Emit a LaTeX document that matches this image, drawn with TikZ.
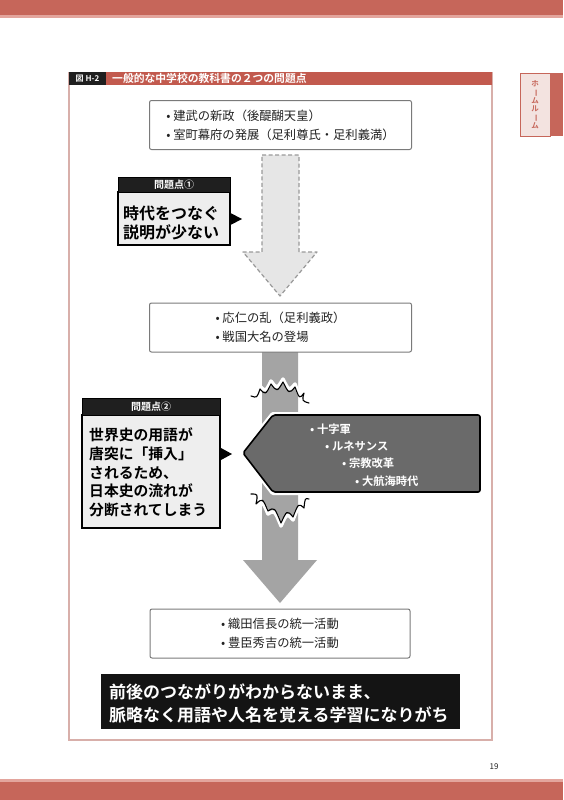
\documentclass[tikz,border=0pt]{standalone}
\usepackage{fontspec}
\newfontfamily\jp{Noto Sans CJK JP}[BoldFont={Noto Sans CJK JP Bold}]
\usetikzlibrary{calc}
\definecolor{pagered}{HTML}{C6665A}
\definecolor{pagered2}{HTML}{E3A59D}
\definecolor{framec}{HTML}{D8AFAA}
\definecolor{headred}{HTML}{C25A4E}
\definecolor{boxgrey}{HTML}{7A7A7A}
\definecolor{arrowgrey}{HTML}{A4A4A4}
\definecolor{dashfill}{HTML}{E6E6E6}
\definecolor{dashline}{HTML}{9A9A9A}
\definecolor{pentfill}{HTML}{6A6A6A}
\definecolor{probfill}{HTML}{EEEEEE}
\definecolor{tabfill}{HTML}{F3E3E0}
\definecolor{txt}{HTML}{222222}
\tikzset{
  eventbox/.style={draw=boxgrey, line width=1, rounded corners=2, fill=white,
    minimum width=262pt, minimum height=49pt, align=left, inner sep=0pt,
    text=txt, font=\jp\fontsize{12.3}{19}\selectfont},
  probhead/.style={fill=black!88, draw=black, line width=1},
  probbody/.style={fill=probfill, draw=black, line width=1.2},
  probtext/.style={anchor=west, align=left, inner sep=0pt, text=black},
  pointer/.style={fill=black},
  jagwhite/.style={white, line width=3.5, line cap=round, line join=round},
  jagblack/.style={black, line width=1.1, line cap=round, line join=round},
}
\begin{document}
\begin{tikzpicture}[x=1pt,y=-1pt]
\useasboundingbox (0,0) rectangle (563,800);
\fill[white] (0,0) rectangle (563,800);
% page bars
\fill[pagered] (0,0) rectangle (563,15);
\fill[pagered2] (0,15) rectangle (563,18);
\fill[pagered2] (0,779) rectangle (563,782);
\fill[pagered] (0,782) rectangle (563,800);
% side tab
\draw[pagered, line width=1, fill=tabfill] (520,73) rectangle (550,136);
\fill[pagered] (550,73) rectangle (563,136);
\node[align=center, inner sep=0pt, text=pagered, font=\jp\bfseries\fontsize{7.5}{8.3}\selectfont] (tab) at (535,104.5)
  {ホ\\\rotatebox[origin=c]{-90}{ー}\\ム\\ル\\\rotatebox[origin=c]{-90}{ー}\\ム};
% page number
\node[inner sep=0pt, font=\jp\fontsize{8}{9}\selectfont, text=txt] (pnum) at (494,767) {19};
% figure frame
\draw[framec, line width=1.2] (69,73) rectangle (492,740);
\fill[headred] (69,72) rectangle (492,85);
\fill[black!88] (69,72) rectangle (106,85);
\node[inner sep=0pt, text=white, font=\jp\bfseries\fontsize{8}{9}\selectfont] (fignum) at (87.5,78.5) {図 H-2};
\node[anchor=west, inner sep=0pt, text=white, font=\jp\bfseries\fontsize{10.8}{12}\selectfont] (figtitle) at (112,78.5) {一般的な中学校の教科書の２つの問題点};
% dashed arrow
\draw[dashline, line width=1.2, dash pattern=on 4pt off 2.5pt, fill=dashfill, line join=round]
  (262,155) -- (299,155) -- (299,252) -- (317,252) -- (280,296) -- (243,252) -- (262,252) -- cycle;
% solid arrow
\fill[arrowgrey] (262,352) -- (298,352) -- (298,560) -- (317,560) -- (280,603) -- (243,560) -- (262,560) -- cycle;
% top jag (spikes upward)
\draw[jagwhite] (251,393) .. controls (257,395) .. (260,386) .. controls (265.5,392) .. (271,381)
  .. controls (277,389) .. (283,379) .. controls (289,391) .. (295,384) .. controls (299.5,396) .. (304,390)
  .. controls (302,398) .. (309,400);
\draw[jagblack] (251,396) .. controls (257,398) .. (260,389) .. controls (265.5,395) .. (271,384)
  .. controls (277,392) .. (283,382) .. controls (289,394) .. (295,387) .. controls (299.5,399) .. (304,393)
  .. controls (302,401) .. (309,403);
% bottom jag (spikes downward)
\draw[jagwhite] (251,497) .. controls (258,497) .. (256,507) .. controls (262.5,501) .. (268,514)
  .. controls (274.5,510) .. (281,526) .. controls (287,513) .. (293,520) .. controls (298.5,506) .. (304,511)
  .. controls (305,501) .. (309,502);
\draw[jagblack] (251,494) .. controls (258,494) .. (256,504) .. controls (262.5,498) .. (268,511)
  .. controls (274.5,507) .. (281,523) .. controls (287,510) .. (293,517) .. controls (298.5,503) .. (304,508)
  .. controls (305,498) .. (309,499);
% pentagon (world history terms)
\draw[white, line width=6, line join=round] (243,453) -- (273,415) -- (480,415) -- (480,492) -- (273,492) -- cycle;
\draw[black, line width=1.6, fill=pentfill, line join=round, rounded corners=2]
  (243,453) -- (273,415) -- (480,415) -- (480,492) -- (273,492) -- cycle;
\node[anchor=west, align=left, inner sep=0pt, text=white, font=\jp\bfseries\fontsize{11.3}{17.3}\selectfont] (world) at (310,455)
  {• 十字軍\\\hspace*{15pt}• ルネサンス\\\hspace*{32pt}• 宗教改革\\\hspace*{45pt}• 大航海時代};
% event boxes
\node[eventbox] (b1) at (280.5,125) {• 建武の新政（後醍醐天皇）\\• 室町幕府の発展（足利尊氏・足利義満）};
\node[eventbox] (b2) at (280.5,327.5) {• 応仁の乱（足利義政）\\• 戦国大名の登場};
\node[eventbox, minimum width=260pt] (b3) at (280,633.5) {• 織田信長の統一活動\\• 豊臣秀吉の統一活動};
% problem 1
\draw[probbody] (118,192) rectangle (230,245);
\draw[probhead] (118,177) rectangle (230,192);
\node[inner sep=0pt, text=white, font=\jp\bfseries\fontsize{10}{11}\selectfont] (ph1) at (174,184.5) {問題点①};
\node[probtext, font=\jp\bfseries\fontsize{16}{19}\selectfont] (pt1) at (123,222.5) {時代をつなぐ\\説明が少ない};
\fill[pointer] (230.5,213) -- (242,219) -- (230.5,225) -- cycle;
% problem 2
\draw[probbody] (82,415) rectangle (220,528);
\draw[probhead] (82,398) rectangle (220,415);
\node[inner sep=0pt, text=white, font=\jp\bfseries\fontsize{10}{11}\selectfont] (ph2) at (151,406.5) {問題点②};
\node[probtext, font=\jp\bfseries\fontsize{14.8}{18.7}\selectfont] (pt2) at (89,472.5)
  {世界史の用語が\\唐突に「挿入」\\されるため、\\日本史の流れが\\分断されてしまう};
\fill[pointer] (221,448) -- (232,454) -- (221,460) -- cycle;
% conclusion banner
\fill[black!92] (101,674) rectangle (460,729);
\node[anchor=west, align=left, inner sep=0pt, text=white, font=\jp\bfseries\fontsize{17}{23}\selectfont] (concl) at (109,703.5)
  {前後のつながりがわからないまま、\\脈略なく用語や人名を覚える学習になりがち};
\end{tikzpicture}
\end{document}
